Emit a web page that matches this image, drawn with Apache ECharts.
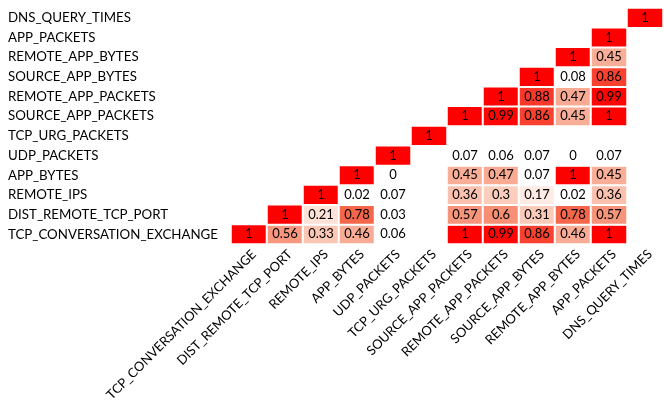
<!DOCTYPE html>
<html>
<head>
<meta charset="utf-8">
<script src="https://cdn.jsdelivr.net/npm/echarts@6/dist/echarts.min.js"></script>
<style>
  html, body { margin: 0; padding: 0; background: #ffffff; }
  #chart { width: 664px; height: 404px; }
</style>
</head>
<body>
<div id="chart"></div>
<script>
// Feature names, used for both axes (y runs bottom-up)
const features = [
  'TCP_CONVERSATION_EXCHANGE', 'DIST_REMOTE_TCP_PORT', 'REMOTE_IPS', 'APP_BYTES',
  'UDP_PACKETS', 'TCP_URG_PACKETS', 'SOURCE_APP_PACKETS', 'REMOTE_APP_PACKETS',
  'SOURCE_APP_BYTES', 'REMOTE_APP_BYTES', 'APP_PACKETS', 'DNS_QUERY_TIMES'
];

// Correlation rows (one per feature, columns in the order above; null = not shown)
const N = null;
const rowTcpConversation = [1, 0.56, 0.33, 0.46, 0.06, N, 1, 0.99, 0.86, 0.46, 1, N];
const rowDistRemotePort  = [N, 1, 0.21, 0.78, 0.03, N, 0.57, 0.6, 0.31, 0.78, 0.57, N];
const rowRemoteIps       = [N, N, 1, 0.02, 0.07, N, 0.36, 0.3, 0.17, 0.02, 0.36, N];
const rowAppBytes        = [N, N, N, 1, 0, N, 0.45, 0.47, 0.07, 1, 0.45, N];
const rowUdpPackets      = [N, N, N, N, 1, N, 0.07, 0.06, 0.07, 0, 0.07, N];
const rowTcpUrgPackets   = [N, N, N, N, N, 1, N, N, N, N, N, N];
const rowSrcAppPackets   = [N, N, N, N, N, N, 1, 0.99, 0.86, 0.45, 1, N];
const rowRemAppPackets   = [N, N, N, N, N, N, N, 1, 0.88, 0.47, 0.99, N];
const rowSrcAppBytes     = [N, N, N, N, N, N, N, N, 1, 0.08, 0.86, N];
const rowRemAppBytes     = [N, N, N, N, N, N, N, N, N, 1, 0.45, N];
const rowAppPackets      = [N, N, N, N, N, N, N, N, N, N, 1, N];
const rowDnsQueryTimes   = [N, N, N, N, N, N, N, N, N, N, N, 1];

const rows = [
  rowTcpConversation, rowDistRemotePort, rowRemoteIps, rowAppBytes,
  rowUdpPackets, rowTcpUrgPackets, rowSrcAppPackets, rowRemAppPackets,
  rowSrcAppBytes, rowRemAppBytes, rowAppPackets, rowDnsQueryTimes
];

const cells = [];
rows.forEach((row, yi) => {
  row.forEach((v, xi) => {
    if (v !== null) cells.push([xi, yi, v]);
  });
});

const FONT = 'Lato';

const chart = echarts.init(document.getElementById('chart'), null, { renderer: 'canvas' });
chart.setOption({
  animation: false,
  backgroundColor: '#ffffff',
  textStyle: { fontFamily: FONT },
  grid: { left: 231, right: 1, top: 8, bottom: 156 },
  xAxis: {
    type: 'category',
    data: features,
    axisLine: { show: false },
    axisTick: { show: false },
    splitLine: { show: false },
    axisLabel: {
      interval: 0,
      rotate: 45,
      margin: 13,
      padding: [0, -7, 0, 0],
      fontSize: 13,
      fontFamily: FONT,
      color: '#000000'
    }
  },
  yAxis: {
    type: 'category',
    data: features,
    axisLine: { show: false },
    axisTick: { show: false },
    splitLine: { show: false },
    axisLabel: {
      interval: 0,
      align: 'left',
      margin: 223,
      fontSize: 13.3,
      fontFamily: FONT,
      color: '#000000'
    }
  },
  // white below ~0.08, through salmon, to pure red at 1
  visualMap: {
    show: false,
    type: 'continuous',
    min: 0.08,
    max: 1,
    dimension: 2,
    inRange: { color: ['#ffffff', '#fbcbba', '#f89b82', '#f46c4e', '#ff0000'] }
  },
  series: [{
    type: 'heatmap',
    data: cells,
    itemStyle: { borderColor: '#ffffff', borderWidth: 2 },
    label: {
      show: true,
      fontSize: 13,
      fontFamily: FONT,
      color: '#000000',
      formatter: p => String(p.value[2])
    },
    emphasis: { disabled: true }
  }]
});
</script>
</body>
</html>
